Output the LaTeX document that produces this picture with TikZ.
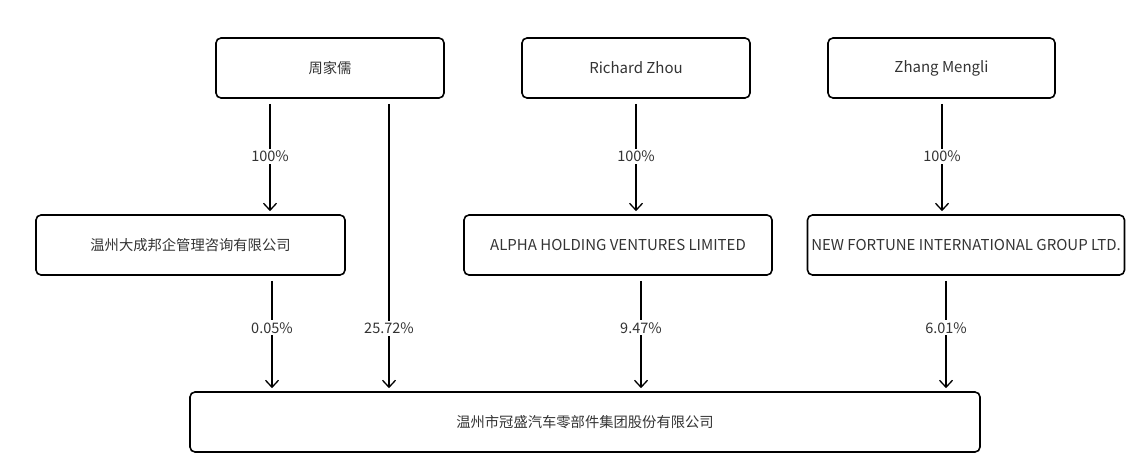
\documentclass[tikz,border=0pt]{standalone}
\usepackage{fontspec}
\setmainfont{Noto Sans CJK SC}
\usetikzlibrary{arrows.meta}
\definecolor{txt}{HTML}{333333}
\begin{document}
\begin{tikzpicture}[x=1pt,y=-1pt,
  box/.style={draw=black,line width=1.6pt,rounded corners=5pt,minimum height=60pt,inner sep=0pt,text=txt,font=\fontsize{14.3}{16}\selectfont},
  en/.style={font=\fontsize{15}{17}\selectfont},
  arr/.style={line width=1.3pt,-{Straight Barb[length=7pt,width=13pt,line width=1.3pt]},shorten <=5pt,shorten >=3pt},
  lab/.style={fill=white,inner sep=2pt,text=txt,font=\fontsize{14.5}{16}\selectfont}]
\useasboundingbox (0,0) rectangle (1126,470);
\node[box,minimum width=228pt] (p1) at (330,68) {周家儒};
\node[box,en,minimum width=228pt] (p2) at (636,68) {Richard Zhou};
\node[box,en,minimum width=227pt] (p3) at (941.5,68) {Zhang Mengli};
\node[box,minimum width=309pt] (c1) at (190.5,245) {温州大成邦企管理咨询有限公司};
\node[box,en,minimum width=308pt] (c2) at (618,245) {ALPHA HOLDING VENTURES LIMITED};
\node[box,en,minimum width=317pt] (c3) at (966,245) {NEW FORTUNE INTERNATIONAL GROUP LTD.};
\node[box,minimum width=790pt] (t) at (585,422) {温州市冠盛汽车零部件集团股份有限公司};
% top to middle
\draw[arr] ([xshift=-60pt]p1.south) -- ([xshift=-60pt]p1.south |- c1.north) node[lab,pos=0.5] {100\%};
\draw[arr] (p2.south) -- (p2.south |- c2.north) node[lab,pos=0.5] {100\%};
\draw[arr] ([xshift=0.5pt]p3.south) -- ([xshift=0.5pt]p3.south |- c3.north) node[lab,pos=0.5] {100\%};
% middle to bottom
\draw[arr] ([xshift=59pt]p1.south) -- ([xshift=59pt]p1.south |- t.north) node[lab,pos=0.785] {25.72\%};
\draw[arr] ([xshift=81.5pt]c1.south) -- ([xshift=81.5pt]c1.south |- t.north) node[lab,pos=0.45] {0.05\%};
\draw[arr] ([xshift=23pt]c2.south) -- ([xshift=23pt]c2.south |- t.north) node[lab,pos=0.45] {9.47\%};
\draw[arr] ([xshift=-20pt]c3.south) -- ([xshift=-20pt]c3.south |- t.north) node[lab,pos=0.45] {6.01\%};
\end{tikzpicture}
\end{document}
